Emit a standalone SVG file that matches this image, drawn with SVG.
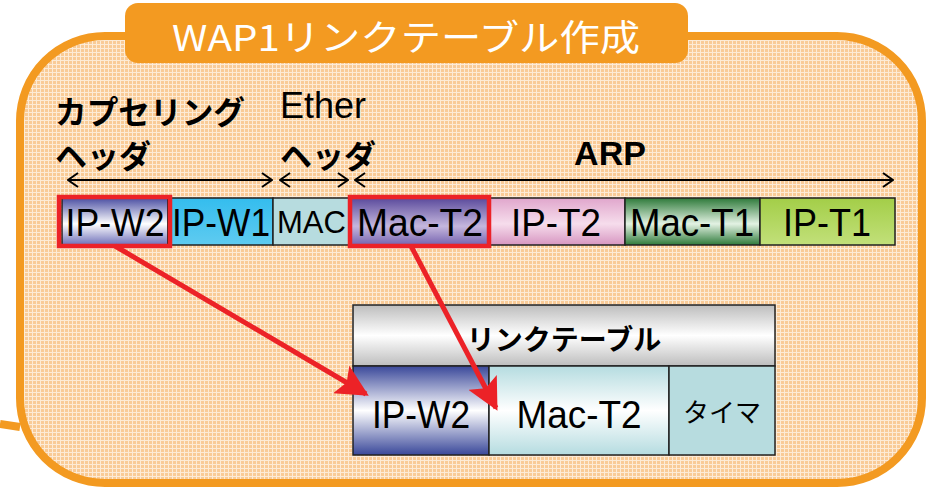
<svg xmlns="http://www.w3.org/2000/svg" width="932" height="488" viewBox="0 0 932 488">
<defs>
<pattern id="grid" width="4" height="4" patternUnits="userSpaceOnUse">
<rect width="4" height="4" fill="#F9CB97"/>
<rect width="4" height="1" fill="#FDEBD6"/>
<rect width="1" height="4" fill="#FDEBD6"/>
</pattern>
<linearGradient id="gIPW2" x1="0" y1="0" x2="0" y2="1"><stop offset="0" stop-color="#4B4FA3"/><stop offset="0.55" stop-color="#FFFFFF"/><stop offset="1" stop-color="#6E6FB9"/></linearGradient>
<linearGradient id="gIPW1" x1="0" y1="0" x2="0" y2="1"><stop offset="0" stop-color="#34BDEE"/><stop offset="1" stop-color="#5FCBF0"/></linearGradient>
<linearGradient id="gMacT2" x1="0" y1="0" x2="0" y2="1"><stop offset="0" stop-color="#5A4A9C"/><stop offset="0.6" stop-color="#C5B7DD"/><stop offset="1" stop-color="#7664B0"/></linearGradient>
<linearGradient id="gIPT2" x1="0" y1="0" x2="0" y2="1"><stop offset="0" stop-color="#E0A6CC"/><stop offset="0.55" stop-color="#F6DDEC"/><stop offset="1" stop-color="#D796C1"/></linearGradient>
<linearGradient id="gMacT1" x1="0" y1="0" x2="0" y2="1"><stop offset="0" stop-color="#2E7A3A"/><stop offset="0.55" stop-color="#E3F2E3"/><stop offset="1" stop-color="#2E7A3A"/></linearGradient>
<linearGradient id="gIPT1" x1="0" y1="0" x2="0" y2="1"><stop offset="0" stop-color="#A3CE48"/><stop offset="1" stop-color="#C2E07A"/></linearGradient>
<linearGradient id="gHead" x1="0" y1="0" x2="0" y2="1"><stop offset="0" stop-color="#BDBDBD"/><stop offset="0.5" stop-color="#FFFFFF"/><stop offset="1" stop-color="#BDBDBD"/></linearGradient>
<linearGradient id="gLIP" x1="0" y1="0" x2="0" y2="1"><stop offset="0" stop-color="#3A489A"/><stop offset="0.5" stop-color="#FFFFFF"/><stop offset="1" stop-color="#3A489A"/></linearGradient>
<linearGradient id="gLMac" x1="0" y1="0" x2="0" y2="1"><stop offset="0" stop-color="#B5DCE0"/><stop offset="0.5" stop-color="#FFFFFF"/><stop offset="1" stop-color="#B5DCE0"/></linearGradient>
<marker id="open" viewBox="0 0 12 16" refX="11" refY="8" markerWidth="12" markerHeight="16" markerUnits="userSpaceOnUse" orient="auto-start-reverse">
<path d="M1,1 L11,8 L1,15" fill="none" stroke="#000" stroke-width="2"/>
</marker>
<marker id="red" viewBox="0 0 10 10" refX="9" refY="5" markerWidth="32" markerHeight="32" markerUnits="userSpaceOnUse" orient="auto">
<path d="M0,0 L10,5 L0,10 L2,5 Z" fill="#EC2227"/>
</marker>
<style>
.cell{stroke:#222;stroke-width:1.5}
.lat{font-family:"Liberation Sans",Arial,sans-serif;fill:#000;text-anchor:middle}
.jp{font-family:"Noto Sans CJK JP",sans-serif;fill:#000;font-weight:bold}
.jpn{font-family:"Noto Sans CJK JP",sans-serif;fill:#000}
.dim{stroke:#000;stroke-width:2;fill:none;marker-start:url(#open);marker-end:url(#open)}
.hl{fill:none;stroke:#EC2227;stroke-width:4.5}
.ra{stroke:#EC2227;stroke-width:5;fill:none;marker-end:url(#red)}
</style>
</defs>

<g id="frame">
<line x1="0" y1="424" x2="20" y2="427" stroke="#F39A21" stroke-width="8"/>
<rect x="20" y="36" width="902" height="447" rx="85" ry="85" fill="url(#grid)" stroke="#F39A21" stroke-width="8"/>
</g>

<g id="title">
<rect x="125" y="3" width="563" height="60" rx="13" fill="#F39A21"/>
<text x="406" y="51" font-family="Noto Sans CJK JP,sans-serif" font-size="36" fill="#FFFFFF" text-anchor="middle" textLength="468" lengthAdjust="spacingAndGlyphs">WAP1リンクテーブル作成</text>
</g>

<g id="labels">
<text class="jp" x="55" y="124" font-size="32" textLength="190" lengthAdjust="spacingAndGlyphs">カプセリング</text>
<text class="jp" x="55" y="168" font-size="32">ヘッダ</text>
<text x="280" y="118" font-family="Liberation Sans,Arial,sans-serif" font-size="36">Ether</text>
<text class="jp" x="280" y="168" font-size="32">ヘッダ</text>
<text x="610" y="165" font-family="Liberation Sans,Arial,sans-serif" font-size="34" font-weight="bold" text-anchor="middle">ARP</text>
</g>

<g id="dimensions">
<line class="dim" x1="68" y1="180" x2="272" y2="180"/>
<line class="dim" x1="280" y1="180" x2="348" y2="180"/>
<line class="dim" x1="355" y1="180" x2="893" y2="180"/>
</g>

<g id="packet">
<g id="f-ipw2"><rect class="cell" x="62" y="198" width="106" height="47" fill="url(#gIPW2)"/><text class="lat" x="115" y="236" font-size="38" textLength="99" lengthAdjust="spacingAndGlyphs">IP-W2</text></g>
<g id="f-ipw1"><rect class="cell" x="168" y="198" width="105" height="47" fill="url(#gIPW1)"/><text class="lat" x="221" y="236" font-size="38" textLength="98" lengthAdjust="spacingAndGlyphs">IP-W1</text></g>
<g id="f-mac"><rect class="cell" x="273" y="198" width="77" height="47" fill="#B7DCDF"/><text class="lat" x="311.5" y="233" font-size="31">MAC</text></g>
<g id="f-mact2"><rect class="cell" x="350" y="198" width="138" height="47" fill="url(#gMacT2)"/><text class="lat" x="420" y="236" font-size="38" textLength="126" lengthAdjust="spacingAndGlyphs">Mac-T2</text></g>
<g id="f-ipt2"><rect class="cell" x="488" y="198" width="137" height="47" fill="url(#gIPT2)"/><text class="lat" x="556" y="236" font-size="38" textLength="90" lengthAdjust="spacingAndGlyphs">IP-T2</text></g>
<g id="f-mact1"><rect class="cell" x="625" y="198" width="135" height="47" fill="url(#gMacT1)"/><text class="lat" x="692" y="236" font-size="38" textLength="124" lengthAdjust="spacingAndGlyphs">Mac-T1</text></g>
<g id="f-ipt1"><rect class="cell" x="760" y="198" width="135" height="47" fill="url(#gIPT1)"/><text class="lat" x="827" y="236" font-size="38" textLength="88" lengthAdjust="spacingAndGlyphs">IP-T1</text></g>
<rect class="hl" x="59" y="197" width="111" height="49"/>
<rect class="hl" x="350" y="197" width="139" height="49"/>
</g>

<g id="linktable">
<g id="lt-head"><rect class="cell" x="353" y="305" width="422" height="61" fill="url(#gHead)"/><text class="jp" x="564" y="350" font-size="28" text-anchor="middle">リンクテーブル</text></g>
<g id="lt-ip"><rect class="cell" x="353" y="366" width="136" height="89" fill="url(#gLIP)"/><text class="lat" x="421" y="428" font-size="38" textLength="98" lengthAdjust="spacingAndGlyphs">IP-W2</text></g>
<g id="lt-mac"><rect class="cell" x="489" y="366" width="180" height="89" fill="url(#gLMac)"/><text class="lat" x="579" y="428" font-size="38" textLength="125" lengthAdjust="spacingAndGlyphs">Mac-T2</text></g>
<g id="lt-timer"><rect class="cell" x="669" y="366" width="106" height="89" fill="#B7DCDF"/><text class="jpn" x="722" y="422" font-size="26" text-anchor="middle">タイマ</text></g>
</g>

<g id="connectors">
<line class="ra" x1="115" y1="246" x2="366" y2="394"/>
<line class="ra" x1="411" y1="246" x2="496" y2="408"/>
</g>
</svg>
